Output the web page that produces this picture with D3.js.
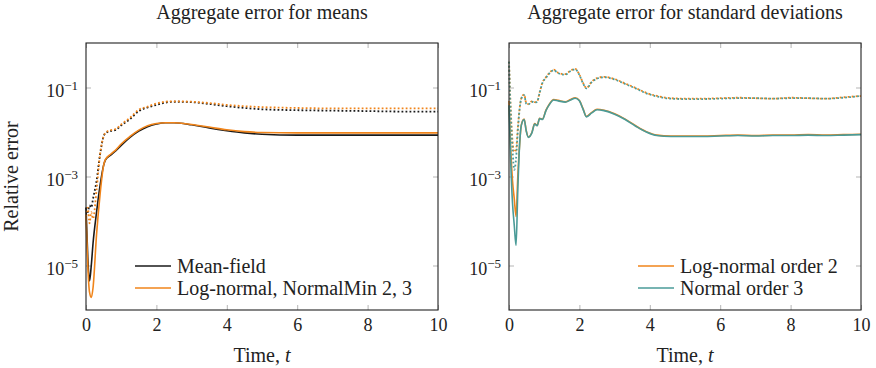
<!doctype html>
<html>
<head>
<meta charset="utf-8">
<title>Aggregate error</title>
<script src="https://cdnjs.cloudflare.com/ajax/libs/d3/7.8.5/d3.min.js"></script>
<style>
    body { margin: 0; background: #fff; }
    svg text { font-family: "Liberation Serif", "DejaVu Serif", serif; fill: #222; }
    .tick line { stroke: #b5b5b5; }
    .domain { display: none; }
    .frame { fill: none; stroke: #222; stroke-width: 1.1; }
    .series { fill: none; stroke-width: 1.6; }
    .dotted { stroke-dasharray: 1.8, 2.2; stroke-width: 1.8; }
</style>
</head>
<body>
<div id="chart"></div>
<script>
// ---- data ----

var xTicks = [0, 2, 4, 6, 8, 10];
var yTicks = [1e-1, 1e-3, 1e-5];
var yTickExp = ["\u22121", "\u22123", "\u22125"];

// left panel: error of the means
var timeMeans = [0, 0.05, 0.1, 0.15, 0.2, 0.3, 0.4, 0.5, 0.55, 0.7, 0.85, 1.0, 1.25, 1.5, 1.75,
    2.0, 2.25, 2.5, 3.0, 3.5, 4.0, 4.5, 5.0, 6.0, 7.0, 8.0, 9.0, 10.0];

var meanFieldSolid = [2.0e-4, 1.58e-5, 4.47e-6, 1.0e-5, 3.16e-5, 1.58e-4, 6.31e-4, 1.78e-3, 2.34e-3,
    3.02e-3, 3.80e-3, 5.01e-3, 7.59e-3, 1.05e-2, 1.32e-2, 1.51e-2, 1.62e-2, 1.62e-2, 1.45e-2,
    1.23e-2, 1.07e-2, 9.55e-3, 8.91e-3, 8.51e-3, 8.51e-3, 8.51e-3, 8.51e-3, 8.51e-3];
var meanFieldDotted = [2.0e-4, 1.58e-4, 2.24e-4, 2.0e-4, 3.16e-4, 7.94e-4, 3.16e-3, 7.94e-3, 9.33e-3,
    1.05e-2, 1.12e-2, 1.41e-2, 1.95e-2, 2.95e-2, 3.55e-2, 4.07e-2, 4.57e-2, 4.79e-2, 4.68e-2,
    4.27e-2, 3.80e-2, 3.47e-2, 3.24e-2, 3.09e-2, 3.02e-2, 2.95e-2, 2.88e-2, 2.88e-2];
var logNormalSolid = [1.26e-4, 1.0e-5, 2.51e-6, 1.91e-6, 3.16e-6, 5.01e-5, 3.98e-4, 1.78e-3, 2.40e-3,
    3.16e-3, 3.98e-3, 5.37e-3, 7.94e-3, 1.10e-2, 1.38e-2, 1.55e-2, 1.62e-2, 1.62e-2, 1.48e-2,
    1.29e-2, 1.12e-2, 1.02e-2, 9.77e-3, 9.55e-3, 9.55e-3, 9.55e-3, 9.55e-3, 9.55e-3];
var logNormalDotted = [1.26e-4, 2.0e-4, 8.91e-5, 1.58e-4, 1.12e-4, 5.01e-4, 3.16e-3, 7.94e-3, 9.55e-3,
    1.10e-2, 1.17e-2, 1.48e-2, 2.09e-2, 3.16e-2, 3.72e-2, 4.37e-2, 4.79e-2, 4.90e-2, 4.79e-2,
    4.47e-2, 4.07e-2, 3.80e-2, 3.63e-2, 3.47e-2, 3.39e-2, 3.39e-2, 3.39e-2, 3.39e-2];

// right panel: error of the standard deviations
var timeStd = [0, 0.05, 0.1, 0.15, 0.2, 0.25, 0.3, 0.35, 0.43, 0.49, 0.55, 0.65, 0.73, 0.8, 0.87,
    0.95, 1.05, 1.15, 1.27, 1.4, 1.6, 1.75, 1.88, 2.0, 2.1, 2.2, 2.35, 2.5, 2.7, 3.0, 3.3, 3.6,
    3.9, 4.2, 4.6, 5.0, 5.5, 6, 6.5, 7, 7.5, 8, 8.5, 9, 9.5, 10];

var logNormal2Solid = [5.01e-2, 3.98e-3, 7.94e-4, 3.16e-4, 1.26e-4, 1.0e-3, 5.01e-3, 1.45e-2, 1.95e-2,
    1.07e-2, 7.76e-3, 9.77e-3, 1.55e-2, 1.41e-2, 2.04e-2, 1.95e-2, 3.09e-2, 4.27e-2, 5.37e-2,
    5.13e-2, 4.79e-2, 5.37e-2, 5.89e-2, 5.13e-2, 3.39e-2, 2.24e-2, 2.75e-2, 3.24e-2, 3.09e-2,
    2.57e-2, 1.95e-2, 1.38e-2, 1.02e-2, 8.51e-3, 8.13e-3, 8.13e-3, 8.13e-3, 8.32e-3, 8.51e-3,
    8.32e-3, 8.51e-3, 8.51e-3, 8.71e-3, 8.51e-3, 8.71e-3, 8.91e-3];
var logNormal2Dotted = [3.80e-1, 3.16e-2, 6.31e-3, 3.55e-3, 3.98e-3, 1.26e-2, 3.31e-2, 5.75e-2, 6.92e-2,
    4.47e-2, 4.27e-2, 4.90e-2, 4.68e-2, 4.90e-2, 7.76e-2, 1.29e-1, 1.70e-1, 2.14e-1, 2.51e-1,
    2.14e-1, 2.0e-1, 2.40e-1, 2.63e-1, 1.95e-1, 1.29e-1, 9.77e-2, 1.35e-1, 1.62e-1, 1.74e-1,
    1.55e-1, 1.23e-1, 9.77e-2, 7.59e-2, 6.46e-2, 5.75e-2, 5.62e-2, 5.62e-2, 5.75e-2, 5.89e-2,
    5.75e-2, 5.62e-2, 5.89e-2, 5.75e-2, 5.62e-2, 6.03e-2, 6.46e-2];
var normal3Solid = [3.98e-2, 2.0e-3, 2.51e-4, 7.94e-5, 2.82e-5, 5.01e-4, 5.01e-3, 1.41e-2, 1.91e-2,
    1.05e-2, 7.59e-3, 9.55e-3, 1.51e-2, 1.38e-2, 2.0e-2, 1.91e-2, 3.02e-2, 4.17e-2, 5.25e-2,
    5.01e-2, 4.68e-2, 5.25e-2, 5.75e-2, 5.01e-2, 3.31e-2, 2.19e-2, 2.69e-2, 3.16e-2, 3.02e-2,
    2.51e-2, 1.91e-2, 1.35e-2, 1.0e-2, 8.32e-3, 7.94e-3, 7.94e-3, 7.94e-3, 8.13e-3, 8.32e-3,
    8.13e-3, 8.32e-3, 8.32e-3, 8.51e-3, 8.32e-3, 8.51e-3, 8.71e-3];
var normal3Dotted = [3.80e-1, 2.51e-2, 3.98e-3, 1.41e-3, 2.51e-3, 1.0e-2, 3.16e-2, 5.62e-2, 6.76e-2,
    4.37e-2, 4.17e-2, 4.79e-2, 4.57e-2, 4.79e-2, 7.59e-2, 1.26e-1, 1.66e-1, 2.09e-1, 2.45e-1,
    2.09e-1, 1.95e-1, 2.34e-1, 2.57e-1, 1.91e-1, 1.26e-1, 9.55e-2, 1.32e-1, 1.58e-1, 1.70e-1,
    1.51e-1, 1.20e-1, 9.55e-2, 7.41e-2, 6.31e-2, 5.62e-2, 5.50e-2, 5.50e-2, 5.62e-2, 5.75e-2,
    5.75e-2, 5.62e-2, 5.75e-2, 5.75e-2, 5.62e-2, 5.89e-2, 6.46e-2];

var black = "#1a1a1a", orange = "#f0841a", teal = "#4a9b98";

// ---- layout ----
var W = 876, H = 368;
var plotTop = 43, plotBottom = 310, panelW = 352;

var svg = d3.select("#chart").append("svg")
    .attr("width", W)
    .attr("height", H);

function drawPanel(left, title, time, series, legend, legendX) {
    var x = d3.scaleLinear().domain([0, 10]).range([left, left + panelW]);
    var y = d3.scaleLog().domain([1e-6, 1]).range([plotBottom, plotTop]);

    var g = svg.append("g");

    // bottom axis with labels, ticks pointing inwards
    var xb = g.append("g")
        .attr("transform", "translate(0," + plotBottom + ")")
        .call(d3.axisBottom(x).tickValues(xTicks).tickSize(-5).tickPadding(8));
    xb.selectAll("text").style("font-size", "18px");

    // mirrored ticks on top
    g.append("g")
        .attr("transform", "translate(0," + plotTop + ")")
        .call(d3.axisTop(x).tickValues(xTicks).tickSize(-5).tickFormat(""));

    // left axis, labels as 10^n
    var yl = g.append("g")
        .attr("transform", "translate(" + left + ",0)")
        .call(d3.axisLeft(y).tickValues(yTicks).tickSize(-5).tickPadding(8));
    yl.selectAll("text")
        .style("font-size", "18px")
        .attr("dy", "0.5em")
        .text(null)
        .each(function(d, i) {
            var t = d3.select(this);
            t.append("tspan").text("10");
            t.append("tspan").attr("dy", "-0.55em").style("font-size", "13px").text(yTickExp[i]);
        });

    // mirrored ticks on the right
    g.append("g")
        .attr("transform", "translate(" + (left + panelW) + ",0)")
        .call(d3.axisRight(y).tickValues(yTicks).tickSize(-5).tickFormat(""));

    // lines
    var line = d3.line()
        .x(function(d) { return x(d[0]); })
        .y(function(d) { return y(d[1]); })
        .curve(d3.curveMonotoneX);

    series.forEach(function(s) {
        g.append("path")
            .datum(time.map(function(t, i) { return [t, s.values[i]]; }))
            .attr("class", "series" + (s.dotted ? " dotted" : ""))
            .attr("stroke", s.color)
            .attr("d", line);
    });

    // frame
    g.append("rect")
        .attr("class", "frame")
        .attr("x", left)
        .attr("y", plotTop)
        .attr("width", panelW)
        .attr("height", plotBottom - plotTop);

    // title and x label
    g.append("text")
        .attr("x", left + panelW / 2)
        .attr("y", 19)
        .attr("text-anchor", "middle")
        .style("font-size", "20px")
        .text(title);

    var xl = g.append("text")
        .attr("x", left + panelW / 2)
        .attr("y", 362)
        .attr("text-anchor", "middle")
        .style("font-size", "20px");
    xl.append("tspan").text("Time, ");
    xl.append("tspan").style("font-style", "italic").text("t");

    // legend
    legend.forEach(function(l, i) {
        var ly = 266 + i * 22;
        g.append("line")
            .attr("x1", legendX).attr("x2", legendX + 36)
            .attr("y1", ly).attr("y2", ly)
            .attr("stroke", l.color)
            .attr("stroke-width", 1.6);
        g.append("text")
            .attr("x", legendX + 42)
            .attr("y", ly)
            .attr("dy", "0.35em")
            .style("font-size", "20px")
            .text(l.label);
    });
}

drawPanel(86, "Aggregate error for means", timeMeans, [
    { values: meanFieldSolid, color: black },
    { values: meanFieldDotted, color: black, dotted: true },
    { values: logNormalSolid, color: orange },
    { values: logNormalDotted, color: orange, dotted: true }
], [
    { label: "Mean-field", color: black },
    { label: "Log-normal, NormalMin 2, 3", color: orange }
], 135);

drawPanel(509, "Aggregate error for standard deviations", timeStd, [
    { values: logNormal2Solid, color: orange },
    { values: logNormal2Dotted, color: orange, dotted: true },
    { values: normal3Solid, color: teal },
    { values: normal3Dotted, color: teal, dotted: true }
], [
    { label: "Log-normal order 2", color: orange },
    { label: "Normal order 3", color: teal }
], 638);

// shared y label
svg.append("text")
    .attr("transform", "translate(18," + ((plotTop + plotBottom) / 2) + ") rotate(-90)")
    .attr("text-anchor", "middle")
    .style("font-size", "20px")
    .text("Relative error");
</script>
</body>
</html>
